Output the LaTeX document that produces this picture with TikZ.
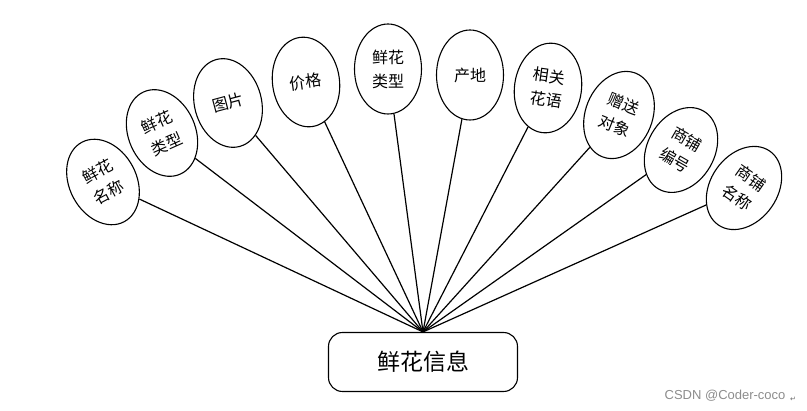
\documentclass[tikz,border=0pt]{standalone}
\usepackage{fontspec}
\setmainfont{Noto Sans CJK SC}
\newfontfamily\wmfont{Liberation Sans}
\newfontfamily\symfont{DejaVu Sans}
\usetikzlibrary{shapes.geometric}

\begin{document}
\begin{tikzpicture}[x=1pt,y=-1pt]
\tikzset{
  attr/.style={ellipse,draw,line width=1.1pt,minimum width=67pt,minimum height=90pt,inner sep=0pt,align=center,font=\fontsize{16}{24}\selectfont},
  entity/.style={rectangle,draw,line width=1.1pt,rounded corners=14pt,minimum width=189pt,minimum height=59pt,font=\fontsize{23}{26}\selectfont},
  link/.style={line width=1.2pt}
}
\useasboundingbox (0,0) rectangle (807,411);
\node[entity] (n_info) at (423,362) {鲜花信息};
\node[attr,rotate=28] (n_mc) at (103,182) {鲜花\\名称};
\node[attr,rotate=24] (n_lx1) at (162,133) {鲜花\\类型};
\node[attr,rotate=15] (n_tp) at (228,103) {图片};
\node[attr,rotate=8] (n_jg) at (306,82) {价格};
\node[attr] (n_lx2) at (388,69) {鲜花\\类型};
\node[attr] (n_cd) at (470,75) {产地};
\node[attr,rotate=-8] (n_hy) at (548,88) {相关\\花语};
\node[attr,rotate=-22] (n_dx) at (619,115) {赠送\\对象};
\node[attr,rotate=-30] (n_bh) at (681,150) {商铺\\编号};
\node[attr,rotate=-35] (n_dm) at (744,188) {商铺\\名称};
\foreach \a in {n_mc,n_lx1,n_tp,n_jg,n_lx2,n_cd,n_hy,n_dx,n_bh,n_dm}
  \draw[link] (n_info.north) -- (\a);
\node[anchor=east,text=black!45,font=\wmfont\fontsize{13}{15}\selectfont] (n_wm) at (789,396) {CSDN @Coder-coco};
\node[anchor=west,inner sep=1pt,text=black!60,font=\symfont\fontsize{7}{8}\selectfont] (n_ret) at ([yshift=-3pt]n_wm.east) {↵};
\end{tikzpicture}
\end{document}
